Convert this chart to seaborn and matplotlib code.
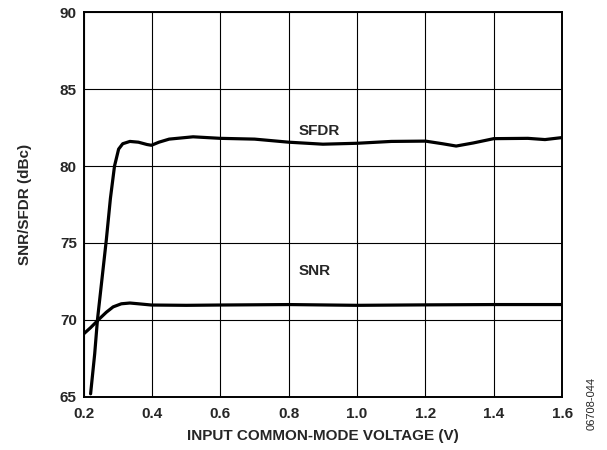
import matplotlib
matplotlib.use('Agg')
import matplotlib.pyplot as plt
import pandas as pd
import seaborn as sns

# Data
sfdr_v = [0.22, 0.232, 0.24, 0.253, 0.266, 0.278, 0.29, 0.302, 0.314, 0.335, 0.36, 0.385, 0.398,
          0.42, 0.45, 0.52, 0.6, 0.7, 0.8, 0.9, 1.0, 1.1, 1.2, 1.25, 1.29, 1.34, 1.4, 1.5, 1.55, 1.6]
sfdr = [65.2, 67.8, 70.0, 72.6, 75.2, 77.9, 80.0, 81.1, 81.45, 81.6, 81.55, 81.4, 81.35,
        81.55, 81.75, 81.9, 81.8, 81.75, 81.55, 81.42, 81.48, 81.6, 81.62, 81.45, 81.3, 81.5, 81.78, 81.8, 81.72, 81.85]
snr_v = [0.2, 0.22, 0.247, 0.266, 0.286, 0.31, 0.335, 0.36, 0.398, 0.5, 0.6, 0.8, 1.0, 1.2, 1.4, 1.6]
snr = [69.1, 69.5, 70.1, 70.5, 70.85, 71.05, 71.1, 71.05, 70.97, 70.95, 70.97, 71.0, 70.95, 70.98, 71.0, 71.0]

x_ticks = [0.2, 0.4, 0.6, 0.8, 1.0, 1.2, 1.4, 1.6]
y_ticks = [65, 70, 75, 80, 85, 90]

df = pd.concat([
    pd.DataFrame({'v': sfdr_v, 'db': sfdr, 'series': 'SFDR'}),
    pd.DataFrame({'v': snr_v, 'db': snr, 'series': 'SNR'}),
])

sns.set_style('white')
plt.rcParams['font.family'] = ['Liberation Sans', 'DejaVu Sans']

fig = plt.figure(figsize=(6.07, 4.5), dpi=100)
ax = fig.add_axes([0.138, 0.118, 0.788, 0.855])

sns.lineplot(data=df, x='v', y='db', units='series', estimator=None, sort=False,
             color='black', linewidth=2.3, ax=ax)

ax.set_xlim(0.2, 1.6)
ax.set_ylim(65, 90)
ax.set_xticks(x_ticks)
ax.set_yticks(y_ticks)
ax.set_xticklabels([f'{t:.1f}' for t in x_ticks], fontweight='bold', fontsize=11)
ax.set_yticklabels([str(t) for t in y_ticks], fontweight='bold', fontsize=11)
ax.tick_params(length=0)
ax.tick_params(axis='x', pad=7)
ax.tick_params(axis='y', pad=5)
ax.grid(True, color='black', linewidth=0.8)
for s in ax.spines.values():
    s.set_color('black')
    s.set_linewidth(1.4)

ax.set_xlabel('INPUT COMMON-MODE VOLTAGE (V)', fontweight='bold', fontsize=11, labelpad=6)
ax.set_ylabel('SNR/SFDR (dBc)', fontweight='bold', fontsize=11, labelpad=20)

ax.text(0.89, 82.3, 'SFDR', fontweight='bold', fontsize=11, ha='center', va='center')
ax.text(0.875, 73.2, 'SNR', fontweight='bold', fontsize=11, ha='center', va='center')

fig.text(0.975, 0.045, '06708-044', rotation=90, fontsize=8, ha='center', va='bottom')

fig.savefig('out.png', dpi=100)
